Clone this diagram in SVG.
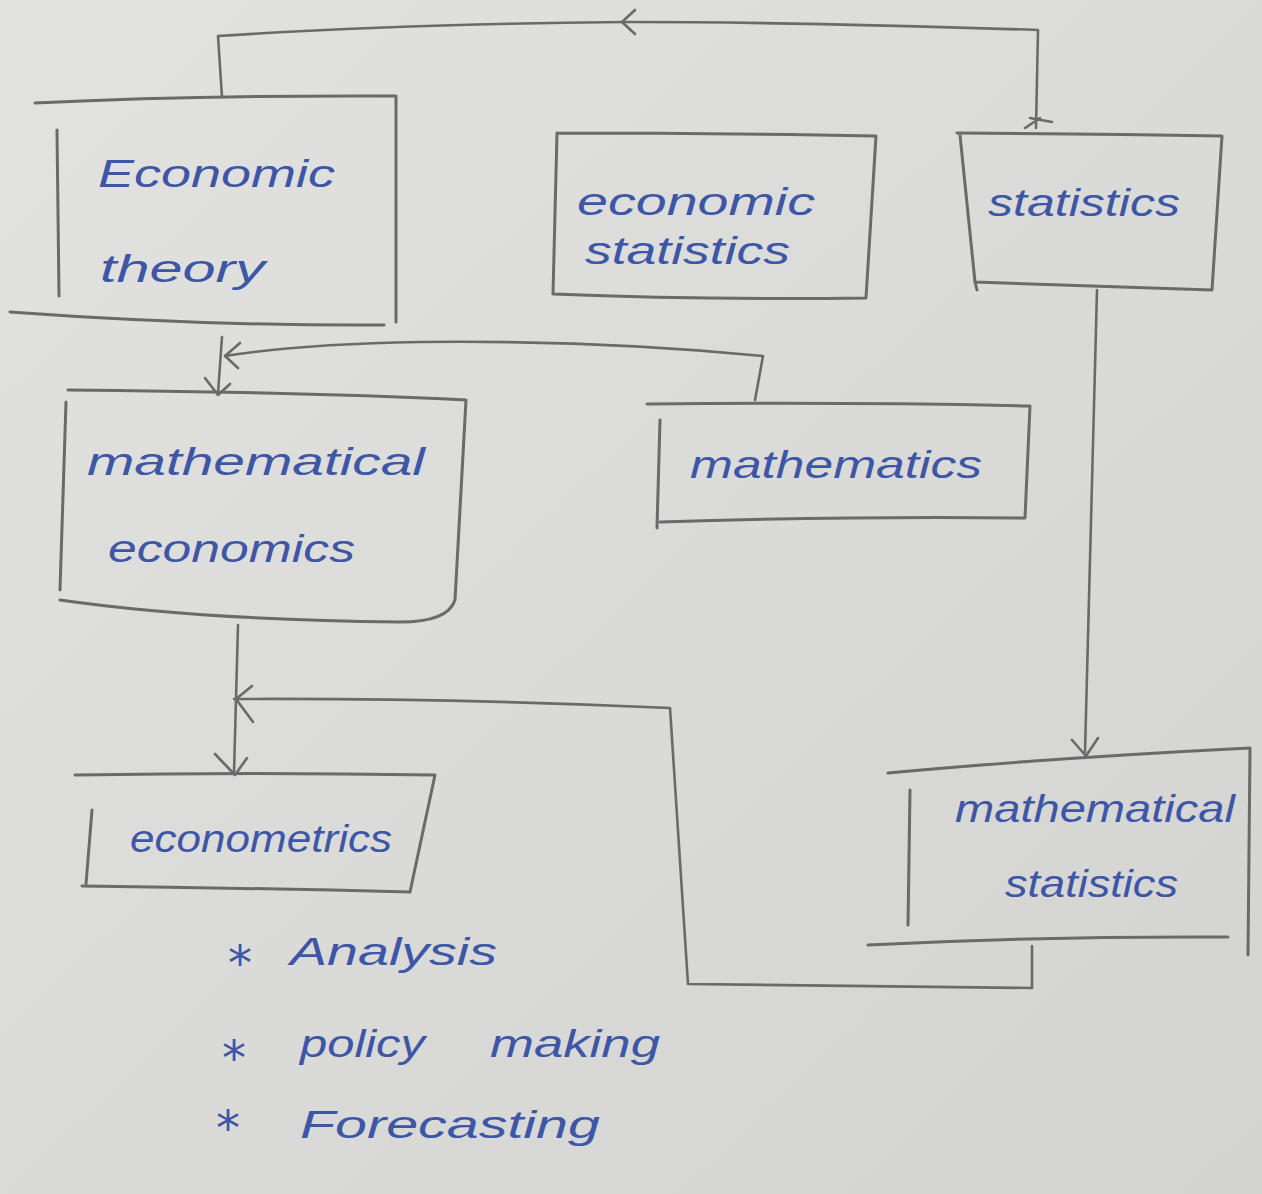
<svg xmlns="http://www.w3.org/2000/svg" width="1262" height="1194" viewBox="0 0 1262 1194">
<style>
.bx{fill:none;stroke:#6a6a6a;stroke-width:3;stroke-linecap:round;stroke-linejoin:round}
.cn{fill:none;stroke:#6a6a6a;stroke-width:2.6;stroke-linecap:round;stroke-linejoin:round}
.t{font-family:"Liberation Sans","DejaVu Sans",sans-serif;font-size:38px;fill:#3d56a6;font-style:italic}
.s{font-family:"DejaVu Sans",sans-serif;font-size:48px;fill:#3d56a6}
</style>
<defs>
<linearGradient id="bg" x1="0" y1="0" x2="1" y2="1">
<stop offset="0" stop-color="#e2e2e0"/>
<stop offset="1" stop-color="#d3d3d2"/>
</linearGradient>
</defs>
<rect width="1262" height="1194" fill="url(#bg)"/>

<g id="connectors">
<path class="cn" d="M1036,128 L1038,30 Q800,22 625,22 Q400,24 218,36 L222,97"/>
<path class="cn" d="M635,10 L622,22 L635,34"/>
<path class="cn" d="M1025,128 L1040,118 M1030,118 L1052,122"/>
<path class="cn" d="M755,400 L763,356 Q600,340 420,342 Q300,344 225,356"/>
<path class="cn" d="M240,343 L225,356 L238,368"/>
<path class="cn" d="M222,337 L218,393 M205,378 L218,395 L230,384"/>
<path class="cn" d="M238,625 L234,773 M215,754 L235,775 L247,758"/>
<path class="cn" d="M1097,290 L1085,752 M1072,740 L1086,756 L1098,738"/>
<path class="cn" d="M1032,946 L1032,988 L688,984 L670,708 Q450,698 234,699"/>
<path class="cn" d="M252,686 L236,699 L253,722"/>
</g>

<g id="economic-theory">
<path class="bx" d="M35,103 Q200,95 396,96 L396,322"/>
<path class="bx" d="M10,312 Q200,326 384,325"/>
<path class="bx" d="M57,130 L59,296"/>
<text class="t" x="98" y="187" textLength="237" lengthAdjust="spacingAndGlyphs">Economic</text>
<text class="t" x="100" y="282" textLength="165" lengthAdjust="spacingAndGlyphs">theory</text>
</g>

<g id="economic-statistics">
<path class="bx" d="M557,133 Q700,133 876,136 L866,298 Q700,300 553,294 L557,133"/>
<text class="t" x="577" y="215" textLength="238" lengthAdjust="spacingAndGlyphs">economic</text>
<text class="t" x="585" y="264" font-size="32" textLength="205" lengthAdjust="spacingAndGlyphs">statistics</text>
</g>

<g id="statistics">
<path class="bx" d="M957,133 Q1100,134 1222,136 L1212,290 Q1100,286 975,282 L960,135"/>
<path class="bx" d="M975,282 L977,290"/>
<text class="t" x="988" y="216" textLength="192" lengthAdjust="spacingAndGlyphs">statistics</text>
</g>

<g id="mathematical-economics">
<path class="bx" d="M68,390 Q300,392 466,400 L455,600 Q448,622 400,622 Q200,620 60,600"/>
<path class="bx" d="M66,402 L60,590"/>
<text class="t" x="87" y="475" textLength="338" lengthAdjust="spacingAndGlyphs">mathematical</text>
<text class="t" x="108" y="562" textLength="247" lengthAdjust="spacingAndGlyphs">economics</text>
</g>

<g id="mathematics">
<path class="bx" d="M647,404 Q850,402 1030,406 L1025,518 Q850,516 660,522"/>
<path class="bx" d="M660,420 L657,528"/>
<text class="t" x="690" y="478" textLength="292" lengthAdjust="spacingAndGlyphs">mathematics</text>
</g>

<g id="econometrics">
<path class="bx" d="M75,775 Q250,772 435,775 L410,892 Q250,888 82,886"/>
<path class="bx" d="M92,810 L86,884"/>
<text class="t" x="130" y="852" textLength="262" lengthAdjust="spacingAndGlyphs">econometrics</text>
</g>

<g id="mathematical-statistics">
<path class="bx" d="M888,773 Q1050,758 1250,748 L1248,955"/>
<path class="bx" d="M868,945 Q1050,936 1228,937"/>
<path class="bx" d="M910,790 L908,925"/>
<text class="t" x="955" y="822" textLength="280" lengthAdjust="spacingAndGlyphs">mathematical</text>
<text class="t" x="1005" y="897" textLength="173" lengthAdjust="spacingAndGlyphs">statistics</text>
</g>

<g id="econometrics-uses">
<text class="s" x="228" y="980">*</text>
<text class="t" x="290" y="965" font-size="44" textLength="207" lengthAdjust="spacingAndGlyphs">Analysis</text>
<text class="s" x="222" y="1075">*</text>
<text class="t" x="300" y="1057" font-size="44" textLength="125" lengthAdjust="spacingAndGlyphs">policy</text>
<text class="t" x="490" y="1057" font-size="44" textLength="170" lengthAdjust="spacingAndGlyphs">making</text>
<text class="s" x="216" y="1145">*</text>
<text class="t" x="300" y="1138" font-size="44" textLength="300" lengthAdjust="spacingAndGlyphs">Forecasting</text>
</g>
</svg>
